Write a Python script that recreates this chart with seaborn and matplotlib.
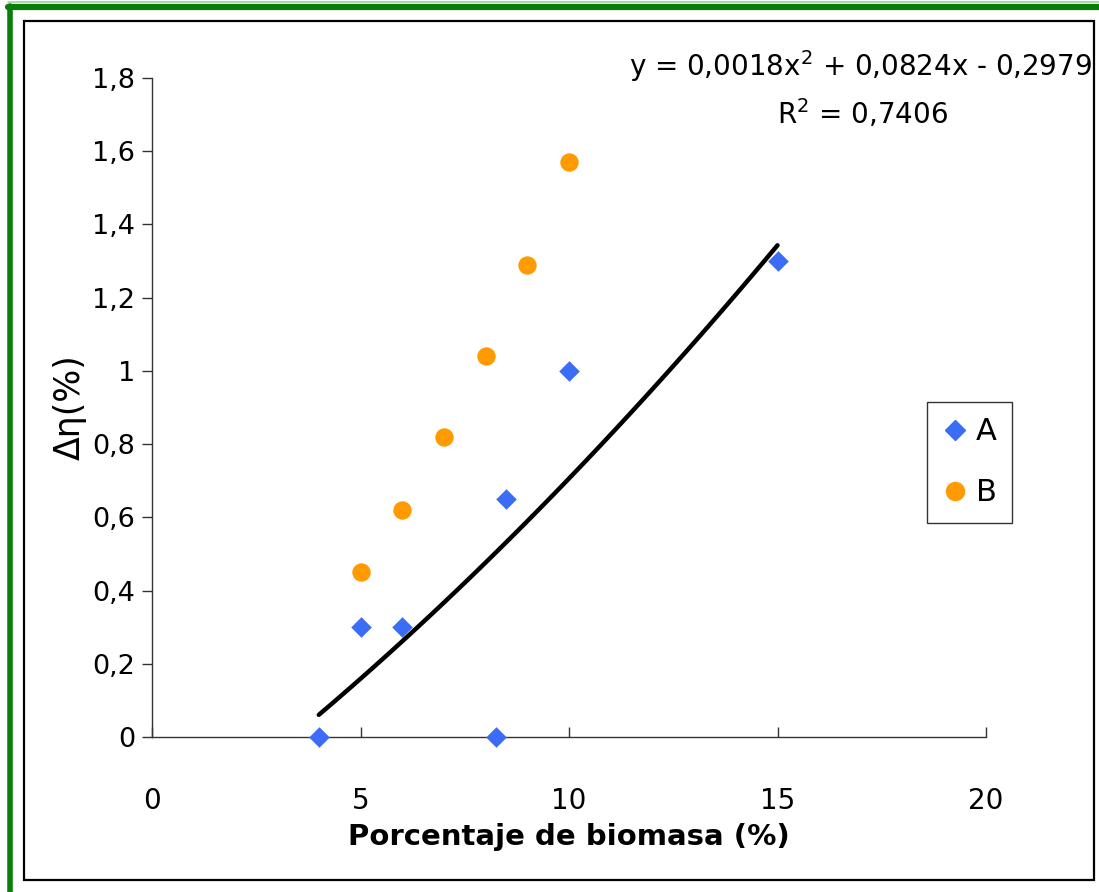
import numpy as np
import pandas as pd
import matplotlib
matplotlib.use("Agg")
import matplotlib.pyplot as plt
from matplotlib.lines import Line2D
from matplotlib.patches import Rectangle
import seaborn as sns

# ---- data ----
a_x = [4, 5, 6, 8.25, 8.5, 10, 15]
a_y = [0.0, 0.30, 0.30, 0.0, 0.65, 1.00, 1.30]
b_x = [5, 6, 7, 8, 9, 10]
b_y = [0.45, 0.62, 0.82, 1.04, 1.29, 1.57]
trend_coef = [0.0018, 0.0824, -0.2979]   # y = a x^2 + b x + c
trend_range = [4, 15]
x_ticks = [0, 5, 10, 15, 20]
y_ticks = [0, 0.2, 0.4, 0.6, 0.8, 1.0, 1.2, 1.4, 1.6, 1.8]
y_tick_labels = ["0", "0,2", "0,4", "0,6", "0,8", "1", "1,2", "1,4", "1,6", "1,8"]
eq_text = "y = 0,0018x$^2$ + 0,0824x - 0,2979"
r2_text = "R$^2$ = 0,7406"
x_label = "Porcentaje de biomasa (%)"
y_label = "Δη(%)"

sns.set_style("white")
plt.rcParams["font.family"] = ["DejaVu Sans"]
plt.rcParams["mathtext.fontset"] = "dejavusans"
plt.rcParams["text.color"] = "black"
plt.rcParams["axes.labelcolor"] = "black"

W, H = 1099, 892
fig = plt.figure(figsize=(W / 100, H / 100), dpi=100)
ax = fig.add_axes([152 / W, 1 - 737 / H, (986 - 152) / W, (737 - 78) / H])

df_a = pd.DataFrame({"x": a_x, "y": a_y, "serie": "A"})
df_b = pd.DataFrame({"x": b_x, "y": b_y, "serie": "B"})

tx = np.linspace(trend_range[0], trend_range[1], 100)
ty = np.polyval(trend_coef, tx)
sns.lineplot(x=tx, y=ty, ax=ax, color="black", linewidth=3.2, zorder=2)

blue = "#3b6cf5"
orange = "#ff9a00"
sns.scatterplot(data=df_a, x="x", y="y", ax=ax, marker="D", s=110,
                color=blue, edgecolor=blue, linewidth=0, zorder=3, clip_on=False)
sns.scatterplot(data=df_b, x="x", y="y", ax=ax, marker="o", s=175,
                color=orange, edgecolor=orange, linewidth=0, zorder=3, clip_on=False)

ax.set_xlim(0, 20)
ax.set_ylim(0, 1.8)
ax.set_xticks(x_ticks)
ax.set_xticklabels([str(t) for t in x_ticks])
ax.set_yticks(y_ticks)
ax.set_yticklabels(y_tick_labels)

for s in ["top", "right"]:
    ax.spines[s].set_visible(False)
for s in ["left", "bottom"]:
    ax.spines[s].set_color("#333333")
    ax.spines[s].set_linewidth(1.0)

ax.tick_params(axis="x", bottom=True, direction="in", length=7, width=1, colors="#333333",
               pad=36, labelsize=20, labelcolor="black")
ax.tick_params(axis="y", left=True, direction="out", length=7, width=1, colors="#333333",
               pad=5, labelsize=19.5, labelcolor="black")
ax.set_xlabel(x_label, fontsize=21, fontweight="bold", labelpad=6)
ax.set_ylabel(y_label, fontsize=25, labelpad=4)

fig.text(861 / W, 1 - 66 / H, eq_text, ha="center", va="center", fontsize=20)
fig.text(862 / W, 1 - 114 / H, r2_text, ha="center", va="center", fontsize=20)

handles = [Line2D([], [], marker="D", linestyle="none", color=blue, markersize=10.5),
           Line2D([], [], marker="o", linestyle="none", color=orange, markersize=13)]
leg = fig.legend(handles, ["A", "B"], loc="upper left",
                 bbox_to_anchor=(927 / W, 1 - 402 / H), fontsize=22,
                 frameon=True, fancybox=False, framealpha=1, edgecolor="#333333",
                 handletextpad=0.3, borderpad=0.5, labelspacing=1.05,
                 handlelength=0.8, borderaxespad=0)
leg.get_frame().set_linewidth(1.0)

# frames
fig.patches.append(Rectangle((24 / W, 1 - 880 / H), (1094 - 24) / W, (880 - 21) / H,
                             transform=fig.transFigure, fill=False,
                             edgecolor="black", linewidth=1.6, zorder=0))
fig.lines.append(Line2D([10 / W, 10 / W], [0, 1 - 6 / H], transform=fig.transFigure,
                        color="#0a7d0a", linewidth=4))
fig.lines.append(Line2D([7.5 / W, 1], [1 - 6.5 / H, 1 - 6.5 / H], transform=fig.transFigure,
                        color="#0a7d0a", linewidth=4.5))
fig.lines.append(Line2D([7.5 / W, 1], [1 - 2 / H, 1 - 2 / H], transform=fig.transFigure,
                        color="#9fd09f", linewidth=1.2))

fig.savefig("out.png", dpi=100)
